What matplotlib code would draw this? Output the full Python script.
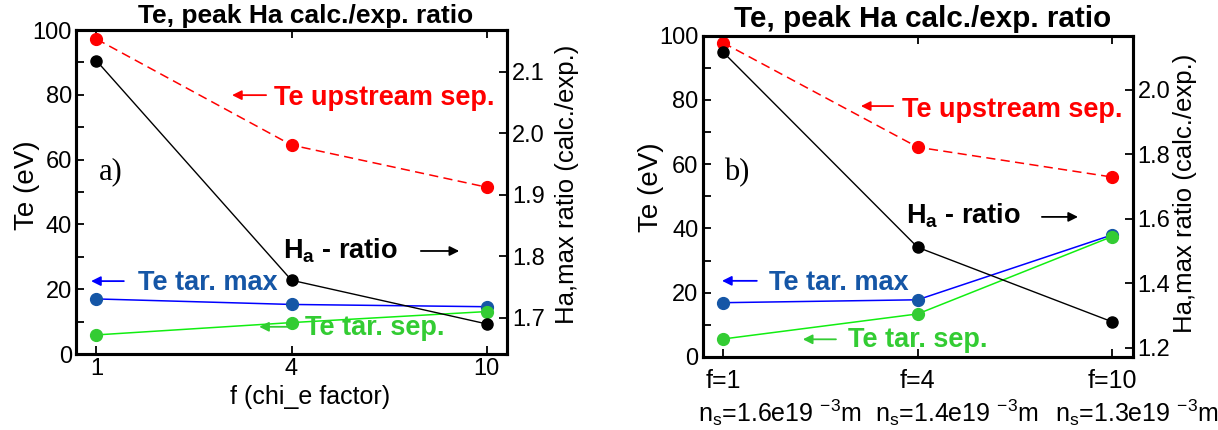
import numpy as np
import matplotlib
matplotlib.use('Agg')
import matplotlib.pyplot as plt
from matplotlib.ticker import MultipleLocator

plt.rcParams['font.family'] = ['Liberation Sans', 'DejaVu Sans']
plt.rcParams['mathtext.fontset'] = 'custom'
plt.rcParams['mathtext.rm'] = 'Liberation Sans'
plt.rcParams['mathtext.it'] = 'Liberation Sans:italic'
plt.rcParams['mathtext.bf'] = 'Liberation Sans:bold'

# ---- data ----
f_labels_a = ['1', '4', '10']
te_up_a = [97.2, 64.5, 51.5]
te_tmax_a = [17.0, 15.3, 14.6]
te_tsep_a = [5.9, 9.7, 13.1]
ha_a = [2.118, 1.761, 1.690]

f_labels_b = ['f=1', 'f=4', 'f=10']
ns_labels_b = [r'n$_\mathrm{s}$=1.6e19 $^{-3}$m',
               r'n$_\mathrm{s}$=1.4e19 $^{-3}$m',
               r'n$_\mathrm{s}$=1.3e19 $^{-3}$m']
te_up_b = [97.8, 65.3, 56.0]
te_tmax_b = [16.9, 17.8, 38.0]
te_tsep_b = [5.6, 13.4, 37.5]
ha_b = [2.117, 1.512, 1.281]

RED = '#ff0000'
BLUE_L = '#0000ff'
BLUE_M = '#1556a6'
GREEN_L = '#11ee11'
GREEN_M = '#33cc33'

fig = plt.figure(figsize=(12.18, 4.3), dpi=100)
fig.set_facecolor('w')
ax_a = fig.add_axes([0.0624, 0.1767, 0.3539, 0.7535])
ax_b = fig.add_axes([0.5769, 0.1698, 0.3530, 0.7472])


def panel(ax, up, tmax, tsep, ha, ha_lim, ha_step):
    x = np.arange(len(up))
    ax.plot(x, tmax, '-', color=BLUE_L, lw=1.1, zorder=2)
    ax.plot(x, tmax, 'o', color=BLUE_M, ms=8.5, zorder=3)
    ax.plot(x, tsep, '-', color=GREEN_L, lw=1.1, zorder=2)
    ax.plot(x, tsep, 'o', color=GREEN_M, ms=8.5, zorder=4)
    ax.plot(x, up, '--', color=RED, lw=1.1, dashes=(6, 3.5), zorder=2)
    ax.plot(x, up, 'o', color=RED, ms=8.5, zorder=3)
    ax.set_xlim(-0.105, 2.105)
    ax.set_ylim(0, 100)
    ax.set_xticks(x)
    ax.yaxis.set_major_locator(MultipleLocator(20))
    ax.yaxis.set_minor_locator(MultipleLocator(10))
    ax.tick_params(which='both', direction='in', top=True, right=False,
                   width=1.3, labelsize=17, pad=3)
    ax.tick_params(which='major', length=6)
    ax.tick_params(which='minor', length=6)
    for s in ax.spines.values():
        s.set_linewidth(2.2)

    ax2 = ax.twinx()
    ax2.plot(x, ha, '-', color='k', lw=1.0)
    ax2.plot(x, ha, 'o', color='k', ms=8)
    ax2.set_ylim(*ha_lim)
    ax2.yaxis.set_major_locator(MultipleLocator(ha_step))
    ax2.tick_params(direction='in', length=6, width=1.3, labelsize=17, pad=3.5)
    for s in ax2.spines.values():
        s.set_linewidth(2.2)
    ax2.set_ylabel('Ha,max ratio (calc./exp.)', fontsize=18.5, va='center')
    return ax2


def arrow(ax, tail, head, y, color):
    ax.annotate('', xy=(head, y), xytext=(tail, y), xycoords='axes fraction',
                textcoords='axes fraction',
                arrowprops=dict(arrowstyle='-|>', color=color, lw=1.3,
                                mutation_scale=14, shrinkA=0, shrinkB=0))


def labels(ax, pos):
    bold = dict(fontsize=19.5, fontweight='bold', transform=ax.transAxes,
                ha='left', va='center')
    ax.text(pos['letter'][0], pos['letter'][1], pos['letter'][2],
            family='Liberation Serif', fontsize=22, transform=ax.transAxes,
            ha='center', va='center')
    ax.text(*pos['up_t'], 'Te upstream sep.', color=RED, **bold)
    arrow(ax, *pos['up_a'], RED)
    ax.text(*pos['ha_t'], r'$\mathbf{H}_{\mathbf{a}}$ - ratio', color='k', **bold)
    arrow(ax, *pos['ha_a'], 'k')
    ax.text(*pos['max_t'], 'Te tar. max', color=BLUE_M, **bold)
    arrow(ax, *pos['max_a'], BLUE_L)
    ax.text(*pos['sep_t'], 'Te tar. sep.', color=GREEN_M, **bold)
    arrow(ax, *pos['sep_a'], GREEN_M)


# ---- panel a ----
ax2a = panel(ax_a, te_up_a, te_tmax_a, te_tsep_a, ha_a, (1.641, 2.168), 0.1)
ax_a.set_xticklabels(f_labels_a)
ax_a.set_ylabel('Te (eV)', fontsize=20, va='center')
ax_a.yaxis.set_label_coords(-0.114, 0.52)
ax2a.yaxis.set_label_coords(1.139, 0.525)
ax_a.set_xlabel('f (chi_e factor)', fontsize=18, va='center')
ax_a.xaxis.set_label_coords(0.543, -0.133)
ax_a.text(0.532, 1.021, 'Te, peak Ha calc./exp. ratio', transform=ax_a.transAxes,
          fontsize=19, fontweight='bold', ha='center', va='baseline')
labels(ax_a, dict(letter=(0.081, 0.562, 'a)'),
                  up_t=(0.459, 0.790), up_a=(0.441, 0.362, 0.799),
                  ha_t=(0.481, 0.318), ha_a=(0.800, 0.889, 0.318),
                  max_t=(0.144, 0.218), max_a=(0.111, 0.035, 0.225),
                  sep_t=(0.531, 0.080), sep_a=(0.503, 0.425, 0.084)))

# ---- panel b ----
ax2b = panel(ax_b, te_up_b, te_tmax_b, te_tsep_b, ha_b, (1.172, 2.168), 0.2)
ax_b.set_xticklabels(f_labels_b, fontsize=18)
ax_b.tick_params(axis='x', pad=9)
ax_b.set_ylabel('Te (eV)', fontsize=20, va='center')
ax_b.yaxis.set_label_coords(-0.120, 0.527)
ax2b.yaxis.set_label_coords(1.122, 0.51)
for xl, lab in zip([-0.011, 0.401, 0.819], ns_labels_b):
    ax_b.text(xl, -0.174, lab, transform=ax_b.transAxes, fontsize=18,
              ha='left', va='center')
ax_b.text(0.512, 1.028, 'Te, peak Ha calc./exp. ratio', transform=ax_b.transAxes,
          fontsize=21.3, fontweight='bold', ha='center', va='baseline')
labels(ax_b, dict(letter=(0.080, 0.573, 'b)'),
                  up_t=(0.463, 0.769), up_a=(0.443, 0.368, 0.781),
                  ha_t=(0.473, 0.439), ha_a=(0.789, 0.873, 0.436),
                  max_t=(0.154, 0.229), max_a=(0.126, 0.045, 0.237),
                  sep_t=(0.338, 0.053), sep_a=(0.310, 0.233, 0.055)))

fig.savefig('out.png', dpi=100, facecolor='w')
